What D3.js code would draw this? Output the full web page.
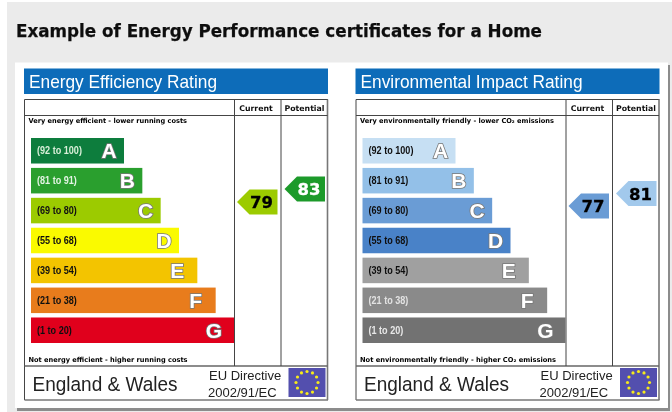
<!DOCTYPE html>
<html>
<head>
<meta charset="utf-8">
<script src="https://d3js.org/d3.v7.min.js"></script>
<style>
html, body { margin: 0; padding: 0; background: #fff; }
svg { display: block; }
</style>
</head>
<body>
<svg width="672" height="412"></svg>
<script>
// данные
const letters = ["A", "B", "C", "D", "E", "F", "G"];
const ranges = ["(92 to 100)", "(81 to 91)", "(69 to 80)", "(55 to 68)", "(39 to 54)", "(21 to 38)", "(1 to 20)"];
const energyColors = ["#0b7d3c", "#2a9f2e", "#9ccb05", "#fafa00", "#f3c400", "#e87c1c", "#e0001e"];
const impactColors = ["#c6dff3", "#93c0e8", "#6b9cd5", "#4a82c8", "#a0a0a0", "#8a8a8a", "#727272"];
const energyLabelColors = ["#d9efd9", "#e4f4e4", "#111", "#111", "#111", "#111", "#111"];
const impactLabelColors = ["#111", "#111", "#111", "#111", "#111", "#e2e2e2", "#e8e8e8"];
const energyScores = [79, 83];
const impactScores = [77, 81];
const energyArrowColors = ["#9ccb05", "#1f9a2c"];
const impactArrowColors = ["#6b9cd5", "#a2c9ec"];
const energyArrowText = ["#000", "#fff"];
const impactArrowText = ["#000", "#000"];
const columns = ["Current", "Potential"];

const svg = d3.select("svg");
const sans = "'Liberation Sans', Arial, sans-serif";
const wide = "'DejaVu Sans', Verdana, sans-serif";

const defs = svg.append("defs");
defs.append("filter").attr("id", "soft")
    .attr("x", 0).attr("y", 0).attr("width", 1).attr("height", 1)
    .append("feGaussianBlur").attr("stdDeviation", 0.5);

const root = svg.append("g").attr("filter", "url(#soft)");

// фон страницы и белая подложка
root.append("rect").attr("width", 672).attr("height", 412).attr("fill", "#fff");
root.append("rect").attr("x", 7).attr("y", 2).attr("width", 665).attr("height", 410).attr("fill", "#ebebeb");
root.append("rect").attr("x", 17).attr("y", 65).attr("width", 653).attr("height", 346).attr("fill", "#8c8c8c");
root.append("rect").attr("x", 15).attr("y", 62.5).attr("width", 653).attr("height", 345.5).attr("fill", "#fff");

root.append("text")
    .attr("x", 16).attr("y", 37)
    .attr("font-family", wide).attr("font-weight", "bold").attr("font-size", 17.5)
    .attr("fill", "#111").attr("stroke", "#111").attr("stroke-width", 0.25)
    .attr("textLength", 526).attr("lengthAdjust", "spacingAndGlyphs")
    .text("Example of Energy Performance certificates for a Home");

function drawRating(opts) {
    const g = root.append("g").attr("transform", `translate(${opts.dx}, 0)`);

    // заголовок
    g.append("rect").attr("x", 24).attr("y", 68.5).attr("width", 304).attr("height", 25.5).attr("fill", "#0a6cb9");
    g.append("text").attr("x", 29).attr("y", 88)
        .attr("font-family", sans).attr("font-size", 19).attr("fill", "#fff")
        .attr("textLength", opts.titleWidth).attr("lengthAdjust", "spacingAndGlyphs")
        .text(opts.title);

    // таблица
    const frame = g.append("g").attr("fill", "none").attr("stroke", "#444").attr("stroke-width", 1);
    frame.append("line").attr("x1", 24.5).attr("x2", 328).attr("y1", 99.5).attr("y2", 99.5);
    frame.append("line").attr("x1", 24.5).attr("x2", 24.5).attr("y1", 99.5).attr("y2", 400);
    frame.append("line").attr("x1", 327.5).attr("x2", 327.5).attr("y1", 99.5).attr("y2", 400)
        .attr("stroke", "#777").attr("stroke-width", 1.6);
    frame.append("line").attr("x1", 24.5).attr("x2", 328).attr("y1", 400).attr("y2", 400)
        .attr("stroke", "#777").attr("stroke-width", 1.6);
    frame.append("line").attr("x1", 24.5).attr("x2", 327.5).attr("y1", 115.5).attr("y2", 115.5);
    frame.append("line").attr("x1", 24.5).attr("x2", 327.5).attr("y1", 366).attr("y2", 366)
        .attr("stroke", "#666").attr("stroke-width", 1.4);
    frame.append("line").attr("x1", 234.5).attr("x2", 234.5).attr("y1", 99.5).attr("y2", 366);
    frame.append("line").attr("x1", 281).attr("x2", 281).attr("y1", 99.5).attr("y2", 366);

    const columnX = d3.scaleOrdinal().domain(columns).range([256, 304.5]);
    g.selectAll(".col").data(columns).enter().append("text")
        .attr("class", "col")
        .attr("x", d => columnX(d)).attr("y", 111)
        .attr("text-anchor", "middle")
        .attr("font-family", wide).attr("font-weight", "bold").attr("font-size", 7.8).attr("fill", "#111")
        .text(d => d);

    const note = g.append("g")
        .attr("font-family", wide).attr("font-weight", "bold").attr("font-size", 6.8).attr("fill", "#000");
    note.append("text").attr("x", 28.5).attr("y", 122.5)
        .attr("textLength", opts.topWidth).attr("lengthAdjust", "spacingAndGlyphs").text(opts.top);
    note.append("text").attr("x", 28.5).attr("y", 362)
        .attr("textLength", opts.bottomWidth).attr("lengthAdjust", "spacingAndGlyphs").text(opts.bottom);

    // полосы рейтинга
    const scaleY = d3.scaleBand().domain(letters).range([138, 343]).paddingInner(0.147).paddingOuter(0);
    const scaleW = d3.scaleLinear().domain([0, letters.length - 1]).range([93, 203]);
    const bars = g.selectAll(".bar").data(letters).enter().append("g")
        .attr("class", "bar")
        .attr("transform", d => `translate(31, ${scaleY(d)})`);
    bars.append("rect")
        .attr("width", (d, i) => scaleW(i))
        .attr("height", scaleY.bandwidth())
        .attr("fill", (d, i) => opts.colors[i]);
    // подписи диапазонов - узкие, сжимаем по горизонтали
    bars.append("text")
        .attr("transform", `translate(6, ${scaleY.bandwidth() / 2 + 3.6}) scale(0.79, 1)`)
        .attr("font-family", sans).attr("font-weight", "bold").attr("font-size", 11.5)
        .attr("fill", (d, i) => opts.labelColors[i])
        .text((d, i) => ranges[i]);
    bars.append("text")
        .attr("x", (d, i) => scaleW(i) - (i < 4 ? 15 : 20))
        .attr("y", scaleY.bandwidth() / 2 + 7.3)
        .attr("text-anchor", "middle")
        .attr("font-family", sans).attr("font-weight", "bold").attr("font-size", 21)
        .attr("fill", "#fff").attr("stroke", "#777").attr("stroke-width", 1.6)
        .attr("paint-order", "stroke")
        .text(d => d);

    // стрелки с оценками
    const scoreY = d3.scaleLinear().domain(opts.scores).range(opts.scoreRange);
    const arrowLeft = d3.scaleOrdinal().domain(opts.scores).range([237, 284.5]);
    const arrow = d3.line();
    const arrows = g.selectAll(".score").data(opts.scores).enter().append("g")
        .attr("class", "score")
        .attr("transform", d => `translate(${arrowLeft(d)}, ${scoreY(d)})`);
    arrows.append("path")
        .attr("d", arrow([[0, 0], [12.5, -12.5], [40.5, -12.5], [40.5, 12.5], [12.5, 12.5]]) + "Z")
        .attr("fill", (d, i) => opts.arrowColors[i]);
    arrows.append("text")
        .attr("x", 24.5).attr("y", 6)
        .attr("text-anchor", "middle")
        .attr("font-family", wide).attr("font-weight", "bold").attr("font-size", 16.5)
        .attr("fill", (d, i) => opts.arrowText[i])
        .attr("stroke", (d, i) => opts.arrowText[i]).attr("stroke-width", 0.3)
        .text(d => d);

    // нижняя строка
    g.append("text").attr("x", 32.5).attr("y", 391)
        .attr("font-family", sans).attr("font-size", 20.5).attr("fill", "#222")
        .attr("textLength", 145).attr("lengthAdjust", "spacingAndGlyphs")
        .text("England & Wales");
    g.append("text").attr("x", 209).attr("y", 380)
        .attr("font-family", sans).attr("font-size", 13).attr("fill", "#222")
        .text("EU Directive");
    g.append("text").attr("x", 208).attr("y", 397)
        .attr("font-family", sans).attr("font-size", 13).attr("fill", "#222")
        .text("2002/91/EC");

    // флаг ЕС
    g.append("rect").attr("x", 288.5).attr("y", 368).attr("width", 37).attr("height", 29).attr("fill", "#5250ae");
    const stars = d3.range(12);
    const angle = d3.scaleLinear().domain([0, 12]).range([0, 2 * Math.PI]);
    g.selectAll(".star").data(stars).enter().append("circle")
        .attr("class", "star")
        .attr("cx", d => 307 + 11 * Math.cos(angle(d)))
        .attr("cy", d => 382.5 + 11 * Math.sin(angle(d)))
        .attr("r", 1.6)
        .attr("fill", "#f7ea1a");
}

drawRating({
    dx: 0,
    title: "Energy Efficiency Rating",
    titleWidth: 188,
    top: "Very energy efficient - lower running costs",
    topWidth: 158.5,
    bottom: "Not energy efficient - higher running costs",
    bottomWidth: 159,
    colors: energyColors,
    labelColors: energyLabelColors,
    scores: energyScores,
    scoreRange: [202, 189],
    arrowColors: energyArrowColors,
    arrowText: energyArrowText
});

drawRating({
    dx: 331.5,
    title: "Environmental Impact Rating",
    titleWidth: 222,
    top: "Very environmentally friendly - lower CO₂ emissions",
    topWidth: 194,
    bottom: "Not environmentally friendly - higher CO₂ emissions",
    bottomWidth: 196,
    colors: impactColors,
    labelColors: impactLabelColors,
    scores: impactScores,
    scoreRange: [206, 193.5],
    arrowColors: impactArrowColors,
    arrowText: impactArrowText
});
</script>
</body>
</html>
